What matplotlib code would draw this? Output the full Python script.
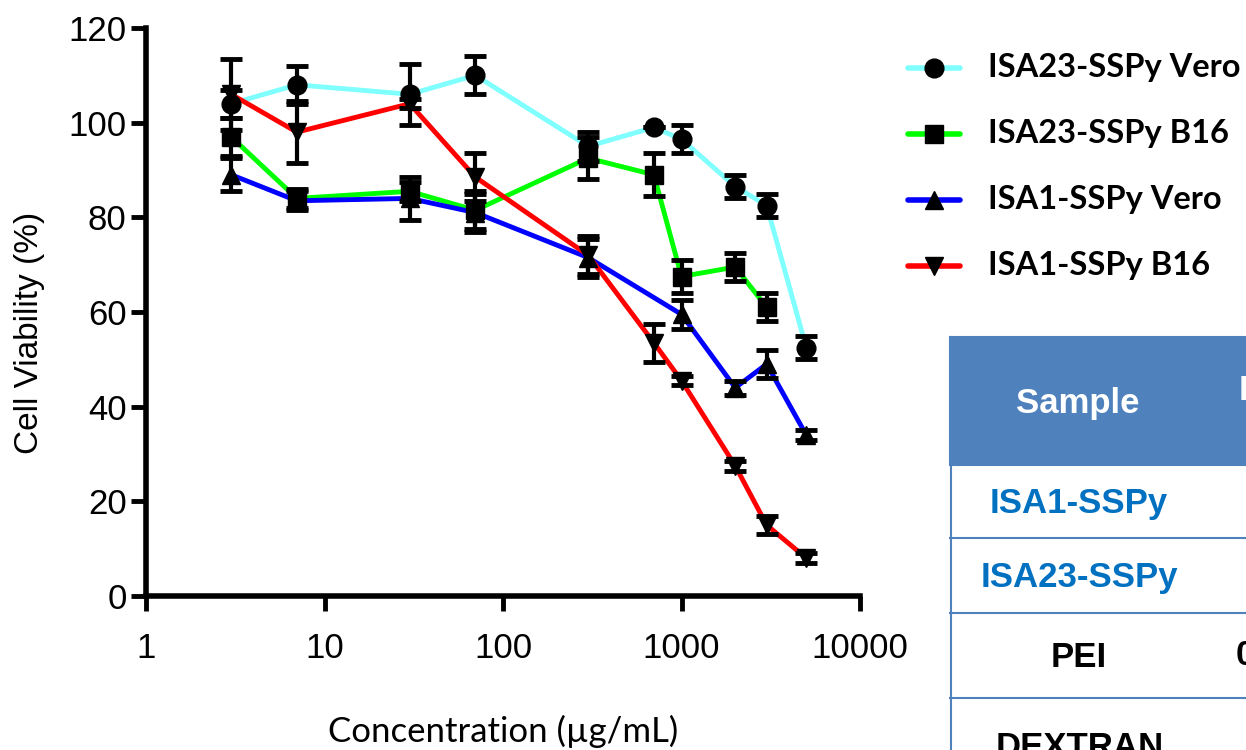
import matplotlib.pyplot as plt
from matplotlib.lines import Line2D
from matplotlib.patches import Rectangle

# concentrations (ug/mL)
conc = [3, 7, 30, 70, 300, 700, 1000, 2000, 3000, 5000]

isa23_vero = [104, 108, 106, 110, 95, 99, 96.5, 86.5, 82.5, 52.5]
isa23_vero_err = [3, 4, 6.5, 4, 3, 0, 3, 2.5, 2.5, 2.5]

isa23_b16 = [97, 84, 85.5, 81.5, 92.5, 89, 67.5, 69.5, 61, None]
isa23_b16_err = [4, 2, 2, 4, 4.5, 4.5, 3.5, 3, 3, None]

isa1_vero = [89, 83.5, 84, 81, 71.5, None, 59.5, 44, 49, 34]
isa1_vero_err = [3.5, 2, 4.5, 4, 4, None, 3, 1.5, 3, 1]

isa1_b16 = [106, 98, 104, 88.5, 72, 53.5, 45.5, 27.5, 15, 8]
isa1_b16_err = [7.5, 6.5, 1, 5, 4, 4, 1, 1, 2, 1]

series_names = ["ISA23-SSPy Vero", "ISA23-SSPy B16", "ISA1-SSPy Vero", "ISA1-SSPy B16"]
series_vals = [isa23_vero, isa23_b16, isa1_vero, isa1_b16]
series_errs = [isa23_vero_err, isa23_b16_err, isa1_vero_err, isa1_b16_err]
series_colors = ["#80FFFF", "#00FF00", "#0000FF", "#FF0000"]
series_markers = ["o", "s", "^", "v"]

# table on the right (cut off by the figure edge)
table_rows = ["ISA1-SSPy", "ISA23-SSPy", "PEI", "DEXTRAN"]
table_row_colors = ["#0070C0", "#0070C0", "black", "black"]
table_second_col = ["", "", "0.5", ""]

W, H = 1246, 750

def fx(px):
    return px / W

def fy(py):
    return 1 - py / H

fig = plt.figure(figsize=(12.46, 7.5), dpi=100)
ax = fig.add_axes([fx(146), fy(596), (860 - 146) / W, (596 - 28) / H])

for vals, errs, col, mk in zip(series_vals, series_errs, series_colors, series_markers):
    xs = [c for c, v in zip(conc, vals) if v is not None]
    ys = [v for v in vals if v is not None]
    es = [e for e in errs if e is not None]
    ax.plot(xs, ys, color=col, lw=3.5, zorder=2)
    ax.errorbar(xs, ys, yerr=es, fmt=mk, color='black', ms=13.5,
                elinewidth=3, capsize=8, capthick=3.5, zorder=3)

ax.set_xscale('log')
ax.set_xlim(1, 10000)
ax.set_ylim(0, 120)
ax.set_xticks([1, 10, 100, 1000, 10000])
ax.set_xticklabels(["1", "10", "100", "1000", "10000"])
ax.minorticks_off()
ax.set_yticks([0, 20, 40, 60, 80, 100, 120])

for side in ['top', 'right']:
    ax.spines[side].set_visible(False)
for side in ['left', 'bottom']:
    ax.spines[side].set_linewidth(4)

ax.tick_params(axis='both', length=11, width=3.5, labelsize=25, pad=3)
ax.tick_params(axis='x', pad=15)
for lab in ax.get_xticklabels() + ax.get_yticklabels():
    lab.set_family('Liberation Sans')

ax.set_ylabel("Cell Viability (%)", fontsize=24, family='Liberation Sans')
ax.yaxis.set_label_coords(-0.141, 0.463)
ax.set_xlabel("Concentration (\u00b5g/mL)", fontsize=25, family='Lato', labelpad=36)

# legend, drawn by hand to the right of the axes
for i, (name, col, mk) in enumerate(zip(series_names, series_colors, series_markers)):
    ry = 68 + 66 * i
    fig.add_artist(Line2D([fx(908), fx(960)], [fy(ry), fy(ry)], transform=fig.transFigure,
                          color=col, lw=4, solid_capstyle='round'))
    fig.add_artist(Line2D([fx(934)], [fy(ry)], transform=fig.transFigure, marker=mk,
                          color='black', ms=13.5, ls='none'))
    fig.text(fx(988), fy(ry), name, fontsize=23.5, weight='bold', family='Lato',
             ha='left', va='center')

# table
blue = "#4F81BD"
fig.add_artist(Rectangle((fx(950), fy(465)), fx(W - 950 + 10), (465 - 337) / H,
                         transform=fig.transFigure, facecolor=blue, edgecolor=blue, lw=1.5))
fig.text(fx(1078), fy(403), "Sample", color='white', fontsize=25, weight='bold',
         family='Liberation Sans', ha='center', va='center')
fig.text(fx(1239), fy(391), "IC50", color='white', fontsize=25, weight='bold',
         family='Liberation Sans', ha='left', va='center')

row_edges = [465, 538, 613, 698, 760]
for i, (name, col, val) in enumerate(zip(table_rows, table_row_colors, table_second_col)):
    top, bot = row_edges[i], row_edges[i + 1]
    fig.add_artist(Line2D([fx(950), fx(W + 5)], [fy(bot), fy(bot)], transform=fig.transFigure,
                          color=blue, lw=1.5))
    if name == "DEXTRAN":
        fig.text(fx(1080), fy(731), name, color=col, fontsize=25, weight='bold',
                 family='Liberation Sans', ha='center', va='top')
    else:
        fig.text(fx(1079), fy((top + bot) / 2 + 2), name, color=col, fontsize=25, weight='bold',
                 family='Liberation Sans', ha='center', va='center')
    if val:
        fig.text(fx(1236), fy((top + bot) / 2), val, color='black', fontsize=25, weight='bold',
                 family='Liberation Sans', ha='left', va='center')
fig.add_artist(Line2D([fx(950.5), fx(950.5)], [fy(337), fy(760)], transform=fig.transFigure,
                      color=blue, lw=1.5))

fig.savefig("out.png", dpi=100)
